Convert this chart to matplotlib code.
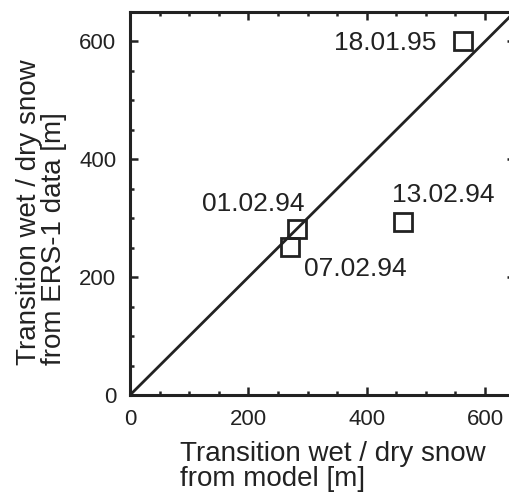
import matplotlib
matplotlib.use("Agg")
import matplotlib.pyplot as plt
from matplotlib.ticker import MultipleLocator

plt.rcParams['font.family'] = ['Liberation Sans', 'DejaVu Sans']

# Données
dates = ['18.01.95', '13.02.94', '01.02.94', '07.02.94']
model_m = [563, 462, 282, 271]
ers1_m = [600, 293, 282, 251]
# décalage des étiquettes (points) et alignement
label_offsets = [(-19, -6.5), (-8.5, 15), (5.5, 12.5), (10, -21)]
label_ha = ['right', 'left', 'right', 'left']

ink = '#222222'

fig = plt.figure(figsize=(5.1, 4.96), dpi=100)
ax = fig.add_axes([0.255, 0.2036, 0.754, 0.7722])

# ligne 1:1
ax.plot([0, 650], [0, 650], color=ink, lw=2.0, solid_capstyle='butt')

ax.plot(model_m, ers1_m, linestyle='none', marker='s', markersize=13,
        markerfacecolor='none', markeredgecolor=ink, markeredgewidth=2.0)

for i, txt in enumerate(dates):
    ax.annotate(txt, (model_m[i], ers1_m[i]), textcoords="offset points",
                xytext=label_offsets[i], ha=label_ha[i], va='baseline',
                fontsize=19, color=ink)

ax.set_xlim(0, 650)
ax.set_ylim(0, 650)
ax.xaxis.set_major_locator(MultipleLocator(200))
ax.yaxis.set_major_locator(MultipleLocator(200))
ax.xaxis.set_minor_locator(MultipleLocator(50))
ax.yaxis.set_minor_locator(MultipleLocator(50))
ax.tick_params(which='both', direction='in', top=True, right=True,
               color=ink, width=1.8)
ax.tick_params(which='major', length=6, labelsize=16, pad=10, labelcolor=ink)
ax.tick_params(which='minor', length=3)
for s in ax.spines.values():
    s.set_linewidth(2.2)
    s.set_color(ink)

fig.text(0.653, 0.06, "Transition wet / dry snow\nfrom model [m]",
         ha='center', va='center', multialignment='left', fontsize=20,
         linespacing=0.95, color=ink)
fig.text(0.082, 0.573, "Transition wet / dry snow\nfrom ERS-1 data [m]",
         ha='center', va='center', multialignment='left', rotation=90,
         fontsize=20, linespacing=0.95, color=ink)

fig.savefig('out.png', dpi=100)
